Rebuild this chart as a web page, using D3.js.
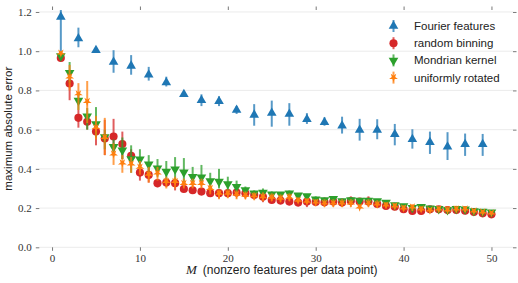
<!DOCTYPE html>
<html><head><meta charset="utf-8">
<script src="https://cdn.jsdelivr.net/npm/d3@7"></script>
<style>body{margin:0;background:#fff}svg{display:block}</style>
</head><body>
<script>
const seriesNames = ["Fourier features","random binning","Mondrian kernel","uniformly rotated"];
const Mall = d3.range(1,51);
const Modd = d3.range(1,50,2);
const xTicks = [0,10,20,30,40,50];
const yTicks = [0.0,0.2,0.4,0.6,0.8,1.0,1.2];

const fourierVal = [1.175,1.065,1.005,0.945,0.925,0.88,0.84,0.78,0.75,0.745,0.70,0.675,0.685,0.68,0.653,0.638,0.62,0.598,0.598,0.576,0.551,0.536,0.513,0.525,0.525];
const fourierLo  = [0.99,1.02,0.995,0.89,0.88,0.85,0.82,0.77,0.72,0.72,0.68,0.62,0.615,0.62,0.629,0.62,0.58,0.544,0.551,0.52,0.503,0.476,0.445,0.466,0.466];
const fourierHi  = [1.21,1.12,1.01,1.005,0.98,0.92,0.87,0.79,0.78,0.77,0.72,0.73,0.748,0.735,0.684,0.663,0.666,0.655,0.653,0.629,0.602,0.59,0.587,0.58,0.578];

const binVal = [0.965,0.835,0.66,0.64,0.59,0.555,0.565,0.527,0.467,0.381,0.369,0.327,0.33,0.327,0.297,0.291,0.284,0.276,0.276,0.276,0.279,0.275,0.267,0.258,0.241,0.238,0.233,0.228,0.233,0.231,0.23,0.233,0.228,0.236,0.233,0.233,0.221,0.211,0.207,0.194,0.185,0.185,0.194,0.194,0.19,0.19,0.187,0.18,0.173,0.168];
const binLo  = [0.955,0.75,0.61,0.60,0.52,0.47,0.49,0.45,0.42,0.34,0.33,0.305,0.31,0.29,0.285,0.28,0.275,0.265,0.25,0.255,0.26,0.255,0.25,0.23,0.225,0.225,0.215,0.21,0.205,0.21,0.21,0.215,0.21,0.22,0.215,0.215,0.205,0.2,0.195,0.185,0.17,0.17,0.18,0.18,0.175,0.18,0.175,0.17,0.165,0.16];
const binHi  = [0.975,0.87,0.70,0.67,0.63,0.65,0.655,0.59,0.50,0.41,0.40,0.345,0.35,0.35,0.31,0.30,0.295,0.29,0.29,0.29,0.29,0.285,0.28,0.27,0.255,0.25,0.245,0.24,0.255,0.25,0.255,0.255,0.245,0.26,0.25,0.26,0.235,0.22,0.215,0.205,0.2,0.2,0.205,0.205,0.2,0.2,0.2,0.19,0.18,0.175];

const mondVal = [0.975,0.89,0.748,0.668,0.628,0.562,0.512,0.495,0.45,0.449,0.423,0.403,0.386,0.398,0.383,0.36,0.357,0.338,0.335,0.323,0.309,0.292,0.275,0.279,0.271,0.271,0.275,0.265,0.262,0.245,0.241,0.248,0.236,0.241,0.238,0.238,0.236,0.228,0.216,0.211,0.202,0.207,0.199,0.196,0.19,0.196,0.194,0.185,0.182,0.179];
const mondLo  = [0.965,0.84,0.70,0.60,0.56,0.50,0.47,0.45,0.38,0.40,0.38,0.36,0.35,0.34,0.33,0.32,0.32,0.30,0.30,0.29,0.28,0.27,0.26,0.265,0.26,0.26,0.26,0.255,0.25,0.235,0.23,0.235,0.225,0.23,0.225,0.225,0.225,0.22,0.21,0.205,0.195,0.2,0.193,0.19,0.183,0.19,0.188,0.18,0.176,0.172];
const mondHi  = [0.985,0.945,0.79,0.71,0.715,0.60,0.55,0.56,0.52,0.50,0.47,0.45,0.44,0.46,0.455,0.41,0.42,0.38,0.40,0.36,0.34,0.31,0.29,0.30,0.285,0.28,0.29,0.275,0.27,0.26,0.25,0.26,0.245,0.255,0.25,0.25,0.245,0.235,0.225,0.218,0.21,0.213,0.205,0.202,0.197,0.202,0.2,0.19,0.188,0.185];

const rotVal = [0.99,0.868,0.782,0.743,0.61,0.56,0.476,0.43,0.425,0.408,0.372,0.378,0.335,0.335,0.325,0.325,0.325,0.30,0.275,0.275,0.27,0.265,0.262,0.258,0.255,0.25,0.255,0.24,0.235,0.23,0.225,0.225,0.225,0.225,0.205,0.225,0.22,0.215,0.21,0.2,0.205,0.195,0.19,0.195,0.19,0.195,0.195,0.185,0.18,0.175];
const rotLo  = [0.98,0.80,0.70,0.633,0.55,0.47,0.42,0.38,0.38,0.37,0.33,0.34,0.30,0.30,0.30,0.30,0.30,0.27,0.245,0.25,0.245,0.245,0.24,0.235,0.235,0.23,0.235,0.225,0.22,0.21,0.205,0.205,0.205,0.205,0.195,0.205,0.2,0.2,0.195,0.185,0.185,0.18,0.175,0.18,0.18,0.178,0.18,0.175,0.17,0.165];
const rotHi  = [1.0,0.93,0.837,0.848,0.67,0.66,0.53,0.47,0.46,0.44,0.41,0.41,0.36,0.36,0.35,0.35,0.35,0.32,0.295,0.295,0.29,0.285,0.28,0.28,0.275,0.27,0.275,0.255,0.25,0.245,0.245,0.245,0.245,0.245,0.22,0.245,0.24,0.23,0.225,0.215,0.22,0.21,0.2,0.21,0.21,0.212,0.21,0.195,0.19,0.185];

const colors = ["#1f77b4","#d62728","#2ca02c","#ff7f0e"];

const W = 518, H = 283;
const pL = 39.3, pR = 513, pT = 10, pB = 247.3;
const x = d3.scaleLinear().domain([-1.45, 52.45]).range([pL, pR]);
const y = d3.scaleLinear().domain([0, 1.21]).range([pB, pT]);

const svg = d3.select("body").append("svg").attr("width", W).attr("height", H);

// gridlines
svg.append("g").selectAll("line").data(yTicks).join("line")
  .attr("x1", pL).attr("x2", pR)
  .attr("y1", d => y(d)).attr("y2", d => y(d))
  .attr("stroke", "#e6e6e6").attr("stroke-width", 0.8);

const serif = "'Liberation Serif','DejaVu Serif',serif";
const sans = "'Liberation Sans','DejaVu Sans',sans-serif";

function styleAxis(g){
  g.select(".domain").remove();
  g.selectAll(".tick line").attr("stroke", "#555").attr("stroke-width", 0.8);
  g.selectAll(".tick text").attr("font-family", serif).attr("font-size", 11).attr("fill", "#333");
}
svg.append("g").attr("transform", `translate(0,${pB})`)
  .call(d3.axisBottom(x).tickValues(xTicks).tickFormat(d3.format("d")).tickSize(3.5).tickPadding(3))
  .call(styleAxis);
svg.append("g").attr("transform", `translate(0,${pT})`)
  .call(d3.axisTop(x).tickValues(xTicks).tickFormat("").tickSize(3.5))
  .call(styleAxis);
svg.append("g").attr("transform", `translate(${pL},0)`)
  .call(d3.axisLeft(y).tickValues(yTicks).tickFormat(d3.format(".1f")).tickSize(3.5).tickPadding(4))
  .call(styleAxis);
svg.append("g").attr("transform", `translate(${pR},0)`)
  .call(d3.axisRight(y).tickValues(yTicks).tickFormat("").tickSize(3.5))
  .call(styleAxis);

// axis labels
const xl = svg.append("text").attr("x", 186).attr("y", 274)
  .attr("text-anchor", "start").attr("font-family", sans).attr("font-size", 12).attr("fill", "#222");
xl.append("tspan").attr("font-family", serif).attr("font-style", "italic").attr("font-size", 13).text("M");
xl.append("tspan").text("\u2002(nonzero features per data point)");

svg.append("text").attr("transform", `translate(12,${(pT+pB)/2}) rotate(-90)`)
  .attr("text-anchor", "middle").attr("font-family", sans).attr("font-size", 11.5).attr("fill", "#222")
  .text("maximum absolute error");

const symbols = [d3.symbolTriangle, d3.symbolCircle, d3.symbolTriangle, d3.symbolStar];
const sizes = [40, 52, 40, 24];
const rot = [0, 0, 180, 180];

const series = [
  {M: Modd, v: fourierVal, lo: fourierLo, hi: fourierHi},
  {M: Mall, v: binVal, lo: binLo, hi: binHi},
  {M: Mall, v: mondVal, lo: mondLo, hi: mondHi},
  {M: Mall, v: rotVal, lo: rotLo, hi: rotHi}
];

series.forEach((s, i) => {
  const g = svg.append("g");
  const pts = s.M.map((m, j) => ({m, v: s.v[j], lo: s.lo[j], hi: s.hi[j]}));
  g.selectAll("line").data(pts).join("line")
    .attr("x1", d => x(d.m)).attr("x2", d => x(d.m))
    .attr("y1", d => y(d.lo)).attr("y2", d => y(d.hi))
    .attr("stroke", colors[i]).attr("stroke-width", 2).attr("stroke-opacity", 0.75);
  g.selectAll("path").data(pts).join("path")
    .attr("d", d3.symbol().type(symbols[i]).size(sizes[i]))
    .attr("transform", d => `translate(${x(d.m)},${y(d.v)}) rotate(${rot[i]})`)
    .attr("fill", colors[i]);
});

// legend
const lg = svg.append("g");
seriesNames.forEach((name, i) => {
  const cy = 26 + i * 17.2, cx = 393.5;
  lg.append("line").attr("x1", cx).attr("x2", cx).attr("y1", cy - 6).attr("y2", cy + 6)
    .attr("stroke", colors[i]).attr("stroke-width", 2).attr("stroke-opacity", 0.75);
  lg.append("path").attr("d", d3.symbol().type(symbols[i]).size(sizes[i]))
    .attr("transform", `translate(${cx},${cy}) rotate(${rot[i]})`).attr("fill", colors[i]);
  lg.append("text").attr("x", 414).attr("y", cy + 4).attr("font-family", sans).attr("font-size", 11.5)
    .attr("fill", "#222").text(name);
});
</script>
</body></html>
